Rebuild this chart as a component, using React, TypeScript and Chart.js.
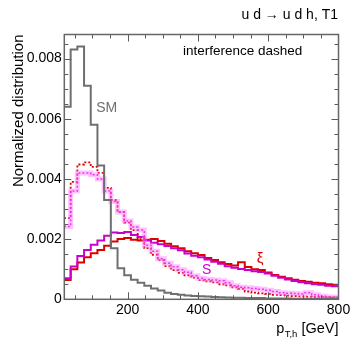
import React, { useEffect, useRef } from 'react';
import { Chart, registerables } from 'chart.js';

Chart.register(...registerables);

// Histogram binning: 42 bins over 0..800 GeV, first visible bin starts at bin index 1
const binWidth = 800 / 42;
const firstBin = 1;
const xMin = 20;
const xMax = 800;
const yMax = 0.0088;

const xTickLabels = [200, 400, 600, 800];
const yTickLabels = [0, 0.002, 0.004, 0.006, 0.008];

// SM (grey, solid)
const smValues = [
  0.0064, 0.0083, 0.0084, 0.0071, 0.0058, 0.00445, 0.0033, 0.0017, 0.00103, 0.0008,
  0.00065, 0.00055, 0.00045, 0.00036, 0.00029, 0.00022, 0.00018, 0.00015, 0.00013, 0.00011,
  0.0001, 0.00009, 0.00008, 0.00007, 0.00006, 0.00005, 0.00005, 0.00004, 0.00004, 0.00004,
  0.00003, 0.00003, 0.00003, 0.00003, 0.00002, 0.00002, 0.00002, 0.00002, 0.00002, 0.00002,
  0.00001,
];

// xi (red, solid)
const xiValues = [
  0.00064, 0.001, 0.00122, 0.0014, 0.00153, 0.00164, 0.00178, 0.00192, 0.002, 0.00204,
  0.00198, 0.00195, 0.00198, 0.002, 0.00194, 0.00185, 0.00176, 0.0017, 0.0016, 0.00153,
  0.00147, 0.00137, 0.00131, 0.00123, 0.00117, 0.00112, 0.00123, 0.00107, 0.001, 0.00097,
  0.00089, 0.00081, 0.00075, 0.0007, 0.00065, 0.00061, 0.00058, 0.00055, 0.00053, 0.0005,
  0.00048,
];

// S (magenta, solid)
const sValues = [
  0.0007, 0.00109, 0.00144, 0.00164, 0.00181, 0.00195, 0.00211, 0.00222, 0.0022, 0.00224,
  0.00214, 0.00207, 0.00195, 0.00188, 0.00183, 0.00177, 0.0017, 0.00163, 0.00152, 0.00145,
  0.0014, 0.00132, 0.00125, 0.00118, 0.0011, 0.00105, 0.00101, 0.00097, 0.00093, 0.00091,
  0.00086, 0.00078, 0.00072, 0.00066, 0.00061, 0.00057, 0.00053, 0.0005, 0.00048, 0.00045,
  0.00043,
];

// xi with interference (red, dashed)
const xiIntValues = [
  0.0027, 0.0039, 0.00448, 0.00455, 0.0044, 0.0042, 0.0037, 0.0033, 0.0029, 0.00255,
  0.0023, 0.002, 0.0017, 0.00148, 0.0013, 0.0011, 0.00097, 0.00088, 0.0008, 0.00072,
  0.00064, 0.0006, 0.00056, 0.0005, 0.00046, 0.0004, 0.00035, 0.00026, 0.00022, 0.0002,
  0.00018, 0.00015, 0.00014, 0.00012, 0.00011, 0.0001, 0.00009, 0.00008, 0.00008, 0.00007,
  0.00007,
];

// S with interference (magenta, dashed, with band)
const sIntValues = [
  0.00242, 0.0036, 0.0042, 0.0042, 0.00414, 0.004, 0.0036, 0.00325, 0.0029, 0.0026,
  0.0024, 0.0023, 0.0018, 0.0016, 0.00135, 0.0012, 0.00108, 0.00098, 0.0009, 0.00078,
  0.0007, 0.00066, 0.00064, 0.00062, 0.00055, 0.00045, 0.0004, 0.00038, 0.00036, 0.00033,
  0.0003, 0.00026, 0.00022, 0.0002, 0.00019, 0.00018, 0.00022, 0.00015, 0.0001, 0.00008,
  0.00007,
];

const FONT = '"Liberation Sans", Arial, Helvetica, sans-serif';
const GREY = '#6f6f6f';
const RED = '#dd0000';
const MAGENTA = '#cc00cc';

function histPoints(vals: number[]) {
  const pts = vals.map((v, i) => ({ x: (firstBin + i) * binWidth, y: v }));
  pts.push({ x: (firstBin + vals.length) * binWidth, y: vals[vals.length - 1] });
  return pts;
}

const framePlugin = {
  id: 'rootFrame',
  afterDraw(chart: any) {
    const { ctx, chartArea, scales } = chart;
    const { left, right, top, bottom } = chartArea;
    const x = scales.x;
    const y = scales.y;
    ctx.save();
    ctx.strokeStyle = '#5a5a5a';
    ctx.lineWidth = 1;
    ctx.beginPath();
    for (let v = 50; v < xMax; v += 50) {
      const px = Math.round(x.getPixelForValue(v)) + 0.5;
      const len = v % 200 === 0 ? 7 : 4;
      ctx.moveTo(px, bottom);
      ctx.lineTo(px, bottom - len);
      ctx.moveTo(px, top);
      ctx.lineTo(px, top + len);
    }
    for (let k = 1; k * 0.0005 < yMax; k++) {
      const py = Math.round(y.getPixelForValue(k * 0.0005)) + 0.5;
      const len = k % 4 === 0 ? 7 : 4;
      ctx.moveTo(left, py);
      ctx.lineTo(left + len, py);
      ctx.moveTo(right, py);
      ctx.lineTo(right - len, py);
    }
    ctx.stroke();
    ctx.strokeStyle = '#666666';
    ctx.lineWidth = 1.5;
    ctx.strokeRect(left, top, right - left, bottom - top);

    // texts
    ctx.textBaseline = 'middle';
    ctx.fillStyle = '#000';
    ctx.font = `14px ${FONT}`;
    ctx.textAlign = 'right';
    ctx.fillText('u d \u2192 u d h, T1', 338, 15);
    ctx.font = `13.5px ${FONT}`;
    ctx.textAlign = 'left';
    ctx.fillText('interference dashed', 183, 51);

    ctx.textAlign = 'center';
    ctx.font = `14px ${FONT}`;
    ctx.fillStyle = GREY;
    ctx.fillText('SM', 106.7, 108);
    ctx.fillStyle = MAGENTA;
    ctx.fillText('S', 206.7, 270);
    ctx.fillStyle = RED;
    ctx.font = `15px ${FONT}`;
    ctx.fillText('\u03BE', 260, 259);

    // x title: p_{T,h} [GeV]
    ctx.fillStyle = '#000';
    ctx.textBaseline = 'alphabetic';
    ctx.textAlign = 'left';
    const mainFont = `14.5px ${FONT}`;
    const subFont = `9.5px ${FONT}`;
    ctx.font = mainFont;
    const wGev = ctx.measureText(' [GeV]').width;
    const wP = ctx.measureText('p').width;
    ctx.font = subFont;
    const wSub = ctx.measureText('T,h').width;
    const endX = 338.5;
    const gevX = endX - wGev;
    const subX = gevX - wSub;
    const pX = subX - wP - 0.5;
    ctx.font = mainFont;
    ctx.fillText('p', pX, 333);
    ctx.fillText(' [GeV]', gevX, 333);
    ctx.font = subFont;
    ctx.fillText('T,h', subX, 336.5);
    ctx.restore();
  },
};

export default function App() {
  const canvasRef = useRef<HTMLCanvasElement | null>(null);

  useEffect(() => {
    const canvas = canvasRef.current;
    if (!canvas) return;
    const common = { pointRadius: 0, stepped: 'before' as const, fill: false, tension: 0 };
    const chart = new Chart(canvas, {
      type: 'line',
      data: {
        datasets: [
          { ...common, label: 'SM', data: histPoints(smValues), borderColor: GREY, borderWidth: 2 },
          { ...common, label: 'S interference band', data: histPoints(sIntValues), borderColor: 'rgba(255,120,255,0.45)', borderWidth: 5 },
          { ...common, label: 'S interference', data: histPoints(sIntValues), borderColor: '#dd00dd', borderWidth: 1.5, borderDash: [2, 2] },
          { ...common, label: 'xi interference', data: histPoints(xiIntValues), borderColor: RED, borderWidth: 1.8, borderDash: [2, 2] },
          { ...common, label: 'S', data: histPoints(sValues), borderColor: MAGENTA, borderWidth: 2 },
          { ...common, label: 'xi', data: histPoints(xiValues), borderColor: RED, borderWidth: 2 },
        ],
      },
      options: {
        responsive: false,
        animation: false,
        devicePixelRatio: 1,
        layout: { padding: { top: 34.5, right: 18.5, left: 0, bottom: 0 } },
        plugins: { legend: { display: false }, tooltip: { enabled: false }, title: { display: false } },
        scales: {
          x: {
            type: 'linear',
            min: xMin,
            max: xMax,
            afterFit: (s: any) => { s.height = 50.7; },
            afterBuildTicks: (s: any) => { s.ticks = xTickLabels.map((v) => ({ value: v })); },
            grid: { display: false, drawTicks: false },
            border: { display: false },
            ticks: {
              autoSkip: false,
              maxRotation: 0,
              padding: 2,
              color: '#000',
              font: { family: FONT, size: 14 },
              callback: (v: any) => String(v),
            },
          },
          y: {
            type: 'linear',
            min: 0,
            max: yMax,
            afterFit: (s: any) => { s.width = 64.3; },
            afterBuildTicks: (s: any) => { s.ticks = yTickLabels.map((v) => ({ value: v })); },
            grid: { display: false, drawTicks: false },
            border: { display: false },
            title: {
              display: true,
              text: 'Normalized distribution',
              align: 'end',
              color: '#000',
              font: { family: FONT, size: 15 },
              padding: { top: 9.5, bottom: 0 },
            },
            ticks: {
              autoSkip: false,
              padding: 2.5,
              color: '#000',
              font: { family: FONT, size: 14 },
              callback: (v: any) => (v === 0 ? '0' : Number(v).toFixed(3)),
            },
          },
        },
      },
      plugins: [framePlugin],
    });
    return () => chart.destroy();
  }, []);

  return (
    <div style={{ position: 'fixed', left: 0, top: 0, width: 357, height: 350, background: '#fff' }}>
      <canvas ref={canvasRef} width={357} height={350} />
    </div>
  );
}
